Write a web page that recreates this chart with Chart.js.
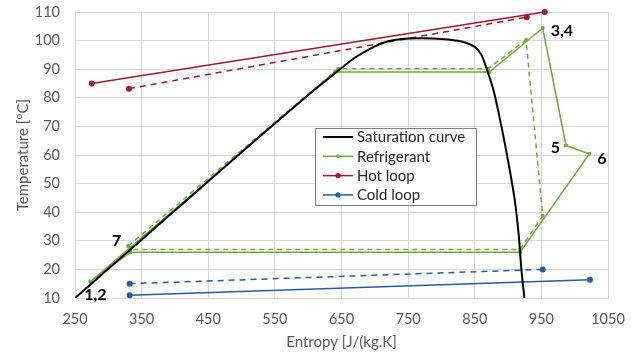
<!DOCTYPE html>
<html>
<head>
<meta charset="utf-8">
<script src="https://cdn.jsdelivr.net/npm/chart.js@4"></script>
<style>
  html, body { margin:0; padding:0; background:#fff; }
  #wrap { width:637px; height:357px; }
</style>
</head>
<body>
<div id="wrap"><canvas id="c"></canvas></div>
<script>
// ===== data (entropy J/(kg.K), temperature °C) =====
const satS = [250, 300, 350, 400, 450, 500, 550, 600, 640, 670, 700, 720, 740, 770, 800, 830, 850, 860, 868, 878, 890, 900, 910, 916, 920, 924.5];
const satT = [10, 20.2, 30.4, 40.6, 50.8, 61, 71, 81, 88.5, 94, 98, 99.8, 100.6, 100.8, 100.6, 99.7, 97.8, 95, 90, 82.8, 70, 58, 44.3, 32, 20, 10];

const refS = [273, 640, 872, 952, 987, 1022, 918, 333, 273];
const refT = [15.7, 89, 89, 104.4, 63.3, 60.4, 26, 26, 15.7];

const refDashS = [330, 645, 870, 927, 952, 918, 333, 330];
const refDashT = [28.2, 90.2, 90.2, 100.2, 38.8, 27, 27, 28.2];

const hotS = [275, 955];
const hotT = [85, 110];
const hotDashS = [331, 928];
const hotDashT = [83.2, 108.2];

const coldS = [332, 1023];
const coldT = [11, 16.4];
const coldDashS = [332, 952];
const coldDashT = [15, 20];

const pointLabels = ["1,2", "3,4", "5", "6", "7"];
const labelS = [273, 952, 987, 1022, 330];
const labelT = [15.7, 104.4, 63.3, 60.4, 28.2];

const xTicks = [250, 350, 450, 550, 650, 750, 850, 950, 1050];

// ===== helpers =====
function pts(xs, ys){
  return xs.map((x,i)=>({x:x, y:ys[i]}));
}

const GREEN = '#70a83f';
const RED = '#9b1c2a';
const BLUE = '#2a5a9a';
const FONT = 'Lato, "Liberation Sans", sans-serif';

function line(label, xs, ys, color, opts){
  return Object.assign({
    label: label,
    data: pts(xs, ys),
    showLine: true,
    borderColor: color,
    backgroundColor: color,
    borderWidth: 1.5,
    pointRadius: 0,
    pointBorderWidth: 0,
    fill: false,
    clip: 6,
    tension: 0
  }, opts || {});
}

// legend inside the plot (Excel style)
const legendItems = [
  {text:"Saturation curve", color:'#000', marker:0},
  {text:"Refrigerant", color:GREEN, marker:1.8},
  {text:"Hot loop", color:RED, marker:2.6},
  {text:"Cold loop", color:BLUE, marker:2.6}
];

const insideLegend = {
  id:'insideLegend',
  afterDatasetsDraw(chart){
    const ctx = chart.ctx;
    const a = chart.chartArea;
    const x0 = a.left + 240, y0 = a.top + 116;
    const w = 161, h = 77;
    ctx.save();
    ctx.fillStyle = '#fff';
    ctx.fillRect(x0, y0, w, h);
    ctx.strokeStyle = '#808080';
    ctx.lineWidth = 1;
    ctx.strokeRect(x0 + 0.5, y0 + 0.5, w, h);
    ctx.font = '15px ' + FONT;
    ctx.textBaseline = 'middle';
    legendItems.forEach((it, i)=>{
      const y = y0 + 9 + i * 19.3;
      ctx.strokeStyle = it.color;
      ctx.lineWidth = it.marker ? 1.5 : 2;
      ctx.beginPath();
      ctx.moveTo(x0 + 8, y);
      ctx.lineTo(x0 + 38, y);
      ctx.stroke();
      if(it.marker){
        ctx.fillStyle = it.color;
        ctx.beginPath();
        ctx.arc(x0 + 23, y, it.marker, 0, Math.PI*2);
        ctx.fill();
      }
      ctx.fillStyle = '#262626';
      ctx.fillText(it.text, x0 + 42, y + 0.5);
    });
    ctx.restore();
  }
};

// state number labels
const labelOffsets = [[-6, 13, 'left'], [8, 3, 'left'], [-6, 2, 'right'], [8, 5, 'left'], [-7, -5, 'right']];

const stateLabels = {
  id:'stateLabels',
  afterDatasetsDraw(chart){
    const ctx = chart.ctx;
    const sx = chart.scales.x, sy = chart.scales.y;
    ctx.save();
    ctx.font = 'bold 16px ' + FONT;
    ctx.fillStyle = '#000';
    ctx.textBaseline = 'middle';
    pointLabels.forEach((t, i)=>{
      const off = labelOffsets[i];
      ctx.textAlign = off[2];
      ctx.fillText(t, sx.getPixelForValue(labelS[i]) + off[0], sy.getPixelForValue(labelT[i]) + off[1]);
    });
    ctx.restore();
  }
};

new Chart(document.getElementById('c'), {
  type:'scatter',
  data:{
    datasets:[
      line("Saturation curve", satS, satT, '#000', {borderWidth:2, tension:0.3, clip:0}),
      line("Refrigerant", refS, refT, GREEN, {pointRadius:2}),
      line("Refrigerant dashed", refDashS, refDashT, GREEN, {pointRadius:2, borderDash:[5,4]}),
      line("Hot loop", hotS, hotT, RED, {pointRadius:3}),
      line("Hot loop dashed", hotDashS, hotDashT, RED, {pointRadius:3, borderDash:[6,5]}),
      line("Cold loop", coldS, coldT, BLUE, {pointRadius:3}),
      line("Cold loop dashed", coldDashS, coldDashT, BLUE, {pointRadius:3, borderDash:[6,5]})
    ]
  },
  options:{
    responsive:true,
    maintainAspectRatio:false,
    animation:false,
    layout:{ padding:{ top:12, right:29, left:0, bottom:0 } },
    plugins:{
      legend:{ display:false },
      tooltip:{ enabled:false }
    },
    scales:{
      x:{
        type:'linear',
        min:250, max:1050,
        afterBuildTicks: s => { s.ticks = xTicks.map(v=>({value:v})); },
        afterFit: s => { s.height = 59; s.paddingLeft = 0; s.paddingRight = 0; },
        grid:{ color:'#d9d9d9', drawTicks:false },
        border:{ color:'#d9d9d9' },
        ticks:{ color:'#595959', font:{ size:14.5, family:FONT }, padding:13, maxRotation:0, callback: v => String(v) },
        title:{ display:true, text:'Entropy [J/(kg.K]', color:'#595959', font:{ size:15, family:FONT }, padding:{top:4, bottom:6} }
      },
      y:{
        min:10, max:110,
        afterFit: s => { s.width = 75; s.paddingTop = 0; s.paddingBottom = 0; },
        grid:{ color:'#d9d9d9', drawTicks:false },
        border:{ color:'#d9d9d9' },
        ticks:{ stepSize:10, color:'#595959', font:{ size:14.5, family:FONT }, padding:15, callback: v => String(v) },
        title:{ display:true, text:'Temperature [°C]', color:'#595959', font:{ size:15, family:FONT }, padding:{top:14, bottom:4} }
      }
    }
  },
  plugins:[insideLegend, stateLabels]
});
</script>
</body>
</html>
